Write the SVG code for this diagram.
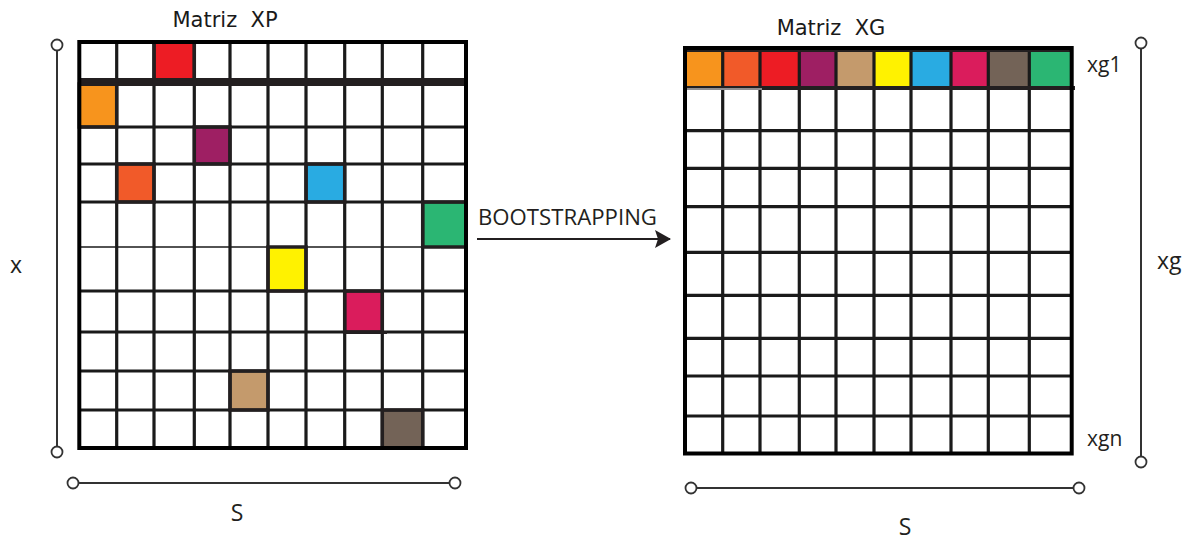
<svg xmlns="http://www.w3.org/2000/svg" width="1191" height="541" viewBox="0 0 1191 541">
  <style>
    .title { font-family: "DejaVu Sans", Verdana, sans-serif; font-size: 21px; fill: #1a1a1a; }
    .lbl { font-family: "Open Sans", "Liberation Sans", sans-serif; font-size: 21px; fill: #231f20; }
    .big { font-size: 23px; }
    .grid { fill: none; stroke: #1a1a1a; stroke-width: 3.2; }
    .frame { fill: none; stroke: #000; stroke-width: 4; }
    .cell { stroke: #231f20; stroke-width: 3.5; }
    .dim { stroke: #333; stroke-width: 2; fill: none; }
    .end { fill: #fff; stroke: #333; stroke-width: 1.8; }
    .c-red { fill: #ed1c24; }
    .c-orange { fill: #f7941d; }
    .c-purple { fill: #9e1f63; }
    .c-vermilion { fill: #f15a29; }
    .c-blue { fill: #29abe2; }
    .c-green { fill: #2bb673; }
    .c-yellow { fill: #fff200; }
    .c-pink { fill: #da1c5c; }
    .c-tan { fill: #c49a6c; }
    .c-taupe { fill: #736357; }
  </style>
  <defs>
    <marker id="arrowhead" viewBox="0 0 16 18" refX="15" refY="9" markerWidth="16" markerHeight="18" markerUnits="userSpaceOnUse" orient="auto">
      <path d="M0,0 L16,9 L0,18 L3,9 Z" fill="#231f20"/>
    </marker>
  </defs>

  <rect width="1191" height="541" fill="#fff"/>

  <!-- Matrix XP: 10x10 grid with scattered coloured cells -->
  <g id="matrix-xp">
    <text class="title" x="225" y="27" text-anchor="middle" xml:space="preserve">Matriz  XP</text>
    <rect class="c-red" x="154" y="42" width="40.3" height="40"/>
    <rect class="c-orange" x="79.3" y="82" width="37.4" height="45"/>
    <rect class="c-purple" x="194.3" y="127" width="35.7" height="37"/>
    <rect class="c-vermilion" x="116.7" y="164" width="37.3" height="38"/>
    <rect class="c-blue" x="306" y="164" width="38.7" height="38"/>
    <rect class="c-green" x="422.7" y="202" width="43.3" height="45"/>
    <rect class="c-yellow" x="268" y="247" width="38" height="44"/>
    <rect class="c-pink" x="344.7" y="291" width="37.6" height="41"/>
    <rect class="c-tan" x="230" y="371" width="38" height="39"/>
    <rect class="c-taupe" x="382.3" y="410" width="40.4" height="38"/>
    <path class="grid" d="M116.7,42V448 M154,42V448 M194.3,42V448 M230,42V448 M268,42V448 M306,42V448 M344.7,42V448 M382.3,42V448 M422.7,42V448
                          M79,127H466 M79,164H466 M79,202H466 M79,291H466 M79,332H466 M79,371H466 M79,410H466"/>
    <path d="M79,247H466" stroke="#1a1a1a" stroke-width="1.5"/>
    <path d="M79,82H466" stroke="#231f20" stroke-width="8"/>
    <g fill="none">
      <rect class="cell" x="154" y="42" width="40.3" height="40"/>
      <rect class="cell" x="79.3" y="84" width="37.4" height="43"/>
      <rect class="cell" x="194.3" y="127" width="35.7" height="37"/>
      <rect class="cell" x="116.7" y="164" width="37.3" height="38"/>
      <rect class="cell" x="306" y="164" width="38.7" height="38"/>
      <rect class="cell" x="422.7" y="202" width="43.3" height="45"/>
      <rect class="cell" x="268" y="247" width="38" height="44"/>
      <rect class="cell" x="344.7" y="291" width="37.6" height="41"/>
      <rect class="cell" x="230" y="371" width="38" height="39"/>
      <rect class="cell" x="382.3" y="410" width="40.4" height="38"/>
    </g>
    <path d="M343,332.5H387" stroke="#231f20" stroke-width="3"/>
    <rect class="frame" x="79.3" y="42" width="386.7" height="406"/>
  </g>

  <!-- Matrix XG: first row holds one coloured cell of each kind -->
  <g id="matrix-xg">
    <text class="title" x="831" y="35" text-anchor="middle" xml:space="preserve">Matriz  XG</text>
    <rect class="c-orange" x="685" y="48" width="37.7" height="40"/>
    <rect class="c-vermilion" x="722.7" y="48" width="37.3" height="40"/>
    <rect class="c-red" x="760" y="48" width="39.3" height="40"/>
    <rect class="c-purple" x="799.3" y="48" width="36.7" height="40"/>
    <rect class="c-tan" x="836" y="48" width="38" height="40"/>
    <rect class="c-yellow" x="874" y="48" width="37" height="40"/>
    <rect class="c-blue" x="911" y="48" width="40" height="40"/>
    <rect class="c-pink" x="951" y="48" width="37.3" height="40"/>
    <rect class="c-taupe" x="988.3" y="48" width="41" height="40"/>
    <rect class="c-green" x="1029.3" y="48" width="42.4" height="40"/>
    <path class="grid" d="M722.7,48V454 M760,48V454 M799.3,48V454 M836,48V454 M874,48V454 M911,48V454 M951,48V454 M988.3,48V454 M1029.3,48V454
                          M685,130.7H1072 M685,168.3H1072 M685,206.7H1072 M685,252.3H1072 M685,295.3H1072 M685,338.3H1072 M685,376H1072 M685,416H1072"/>
    <path d="M685,88H1075" stroke="#231f20" stroke-width="4"/>
    <path d="M687,89H762" stroke="#fff" stroke-width="1"/>
    <path d="M685,50H1072" stroke="#231f20" stroke-width="4"/>
    <rect class="frame" x="685" y="48" width="386.7" height="405.5"/>
  </g>

  <!-- Axis labels -->
  <g id="labels">
    <text class="lbl big" x="16" y="273" text-anchor="middle">x</text>
    <text class="lbl big" x="237" y="521" text-anchor="middle">S</text>
    <text class="lbl big" x="905" y="535" text-anchor="middle">S</text>
    <text class="lbl" x="1087" y="72">xg1</text>
    <text class="lbl big" x="1157" y="269">xg</text>
    <text class="lbl" x="1087" y="446">xgn</text>
    <text class="lbl" x="478" y="225" textLength="179" lengthAdjust="spacingAndGlyphs">BOOTSTRAPPING</text>
  </g>

  <!-- Connectors: transformation arrow and dimension lines -->
  <g id="connectors">
    <path d="M477,239H670" stroke="#231f20" stroke-width="2.2" marker-end="url(#arrowhead)"/>
    <path class="dim" d="M57,51V446"/>
    <circle class="end" cx="57" cy="45" r="5.5"/>
    <circle class="end" cx="57" cy="452" r="5.5"/>
    <path class="dim" d="M79,483H449"/>
    <circle class="end" cx="73" cy="483" r="5.5"/>
    <circle class="end" cx="455" cy="483" r="5.5"/>
    <path class="dim" d="M1141,49V456"/>
    <circle class="end" cx="1141" cy="43" r="5.5"/>
    <circle class="end" cx="1141" cy="462" r="5.5"/>
    <path class="dim" d="M697,488H1073"/>
    <circle class="end" cx="691" cy="488" r="5.5"/>
    <circle class="end" cx="1079" cy="488" r="5.5"/>
  </g>
</svg>
